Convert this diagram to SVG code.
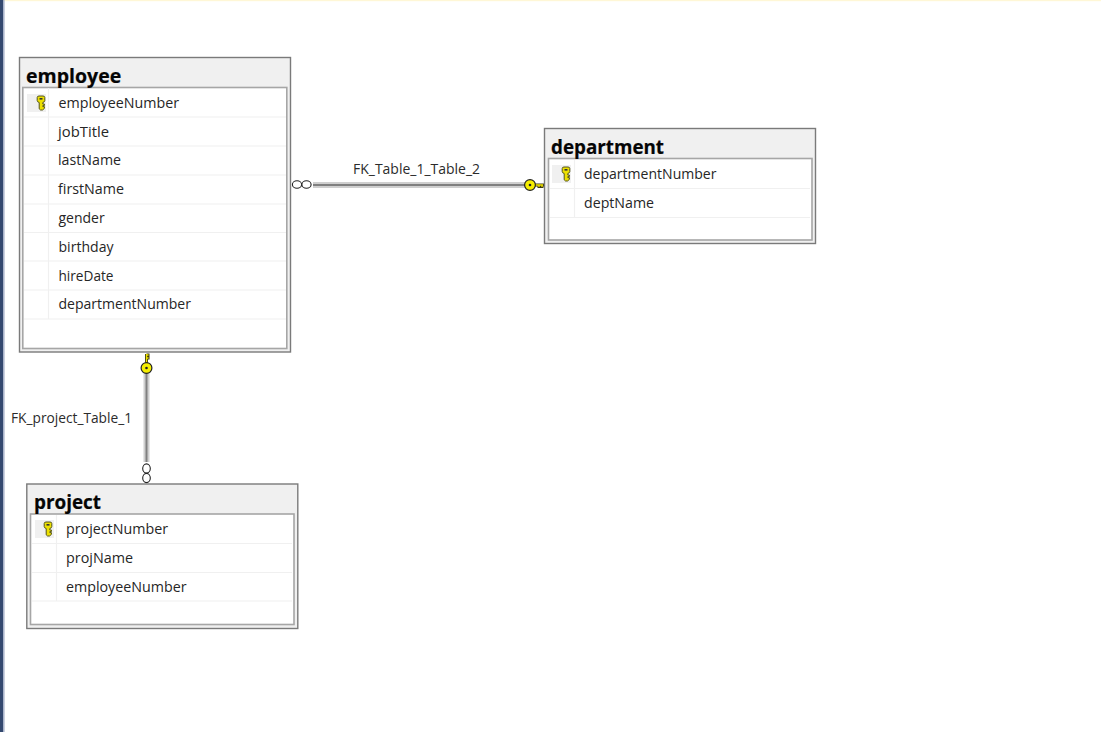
<svg xmlns="http://www.w3.org/2000/svg" width="1101" height="732" viewBox="0 0 1101 732">
<style>
.outer{fill:#f0f0f0;stroke:#7a7a7a;stroke-width:1.4}
.inner{fill:#fff;stroke:#a6a6a6;stroke-width:1.6}
.sep{stroke:#f0f0f0;stroke-width:1.2;fill:none}
.title{font-family:"Open Sans","Noto Sans",sans-serif;font-weight:700;font-size:19.5px;fill:#050505;stroke:#050505;stroke-width:.2}
.col{font-family:"Open Sans","Noto Sans",sans-serif;font-size:14px;fill:#262626}
.lbl{font-family:"Open Sans","Noto Sans",sans-serif;font-size:14px;fill:#2b2b2b}
.keybg{fill:#f0f0f0}
.wire-a{stroke:#cfcfcf;fill:none;stroke-width:6}
.wire-b{stroke:#808080;fill:none;stroke-width:2}
.ring{fill:#fff;stroke:#222;stroke-width:1.1}
.goldring{fill:#f5ee00;stroke:#222;stroke-width:1.2}
</style>
<defs>
<g id="key">
<path d="M-3.800 -5.500Q-3.800 -7 -2 -7H2Q3.800 -7 3.800 -5.500V-2.500Q3.800 -1 1.800 -.5V1H3.400V2.600H1.800V3.600H3.400V5.400L1.500 7H-.5L-1.800 5.800V-.5Q-3.800 -1 -3.800 -2.500Z" fill="#ece000" stroke="#55551a" stroke-width="1"/>
<rect x="-1.500" y="-5" width="3" height="1.600" fill="#333"/>
</g>
</defs>
<rect width="1101" height="732" fill="#fff"/>
<rect x="0" y="0" width="1101" height="1.2" fill="#fff7d6"/>
<rect x="0" y="0" width="3.400" height="732" fill="#34496f"/>
<rect x="3.400" y="0" width="1.200" height="732" fill="#a9b4cc"/>

<g id="connectors">
<g id="conn-employee-department">
<path class="wire-a" d="M313 185H525"/><path class="wire-b" d="M313 185H525"/>
<ellipse class="ring" cx="297" cy="184.500" rx="4.600" ry="3.800"/><ellipse class="ring" cx="306.500" cy="184.500" rx="4.600" ry="3.800"/>
<path d="M534 185H544M539 185v3M542 185v3" fill="none" stroke="#3a3a10" stroke-width="3"/>
<path d="M534 185H543M539 185v2M542 185v2" fill="none" stroke="#eee000" stroke-width="1.300"/>
<circle class="goldring" cx="530" cy="185" r="5.400"/><circle cx="530" cy="185" r="1.300" fill="#222"/>
</g>
<g id="conn-employee-project">
<path class="wire-a" d="M146.500 373V462"/><path class="wire-b" d="M146.500 373V462"/>
<path d="M146.500 364V354M146.500 358h3M146.500 355h3" fill="none" stroke="#3a3a10" stroke-width="3"/>
<path d="M146.500 364V354M146.500 358h2M146.500 355h2" fill="none" stroke="#eee000" stroke-width="1.300"/>
<circle class="goldring" cx="146.500" cy="368" r="5.400"/><circle cx="146.500" cy="368" r="1.300" fill="#222"/>
<ellipse class="ring" cx="146.500" cy="468.500" rx="3.800" ry="4.600"/><ellipse class="ring" cx="146.500" cy="478" rx="3.800" ry="4.600"/>
</g>
<text class="lbl" x="353" y="174" textLength="127" lengthAdjust="spacingAndGlyphs">FK_Table_1_Table_2</text>
<text class="lbl" x="11" y="423" textLength="121" lengthAdjust="spacingAndGlyphs">FK_project_Table_1</text>
</g>

<g id="employee">
<rect class="outer" x="19.500" y="57.500" width="271" height="294.500"/>
<rect class="inner" x="22.800" y="87.500" width="264" height="261"/>
<path class="sep" d="M24 117H286M24 146H286M24 175H286M24 204H286M24 232.500H286M24 261H286M24 290H286M24 319H286M48.500 88V319"/>
<rect class="keybg" x="27" y="94" width="19" height="18"/>
<use href="#key" x="41" y="103"/>
<text class="title" x="26" y="83">employee</text>
<text class="col" x="58.500" y="108" textLength="120.500" lengthAdjust="spacingAndGlyphs">employeeNumber</text>
<text class="col" x="58" y="137" textLength="51" lengthAdjust="spacingAndGlyphs">jobTitle</text>
<text class="col" x="58" y="165" textLength="63" lengthAdjust="spacingAndGlyphs">lastName</text>
<text class="col" x="58" y="194" textLength="66" lengthAdjust="spacingAndGlyphs">firstName</text>
<text class="col" x="58.500" y="223">gender</text>
<text class="col" x="58.500" y="252" textLength="55" lengthAdjust="spacingAndGlyphs">birthday</text>
<text class="col" x="58.500" y="281" textLength="55" lengthAdjust="spacingAndGlyphs">hireDate</text>
<text class="col" x="58.500" y="309" textLength="132.500" lengthAdjust="spacingAndGlyphs">departmentNumber</text>
</g>

<g id="department">
<rect class="outer" x="544.500" y="128.500" width="271" height="115"/>
<rect class="inner" x="548.500" y="158.500" width="263.500" height="81.500"/>
<path class="sep" d="M550 188.500H810M550 217.500H810M574.500 160V217"/>
<rect class="keybg" x="552" y="165" width="19" height="18"/>
<use href="#key" x="566" y="174"/>
<text class="title" x="551" y="154" textLength="113" lengthAdjust="spacingAndGlyphs">department</text>
<text class="col" x="584" y="179" textLength="132.500" lengthAdjust="spacingAndGlyphs">departmentNumber</text>
<text class="col" x="584" y="208" textLength="70" lengthAdjust="spacingAndGlyphs">deptName</text>
</g>

<g id="project">
<rect class="outer" x="26.800" y="484" width="271" height="144.500"/>
<rect class="inner" x="30.500" y="514" width="263.500" height="110.500"/>
<path class="sep" d="M32 543.500H292M32 572.500H292M32 601H292M56.500 515V601"/>
<rect class="keybg" x="35" y="520" width="19" height="18"/>
<use href="#key" x="48" y="529"/>
<text class="title" x="34" y="509" textLength="67" lengthAdjust="spacingAndGlyphs">project</text>
<text class="col" x="66" y="534" textLength="102" lengthAdjust="spacingAndGlyphs">projectNumber</text>
<text class="col" x="66" y="563" textLength="67" lengthAdjust="spacingAndGlyphs">projName</text>
<text class="col" x="66" y="592" textLength="120.500" lengthAdjust="spacingAndGlyphs">employeeNumber</text>
</g>
</svg>
